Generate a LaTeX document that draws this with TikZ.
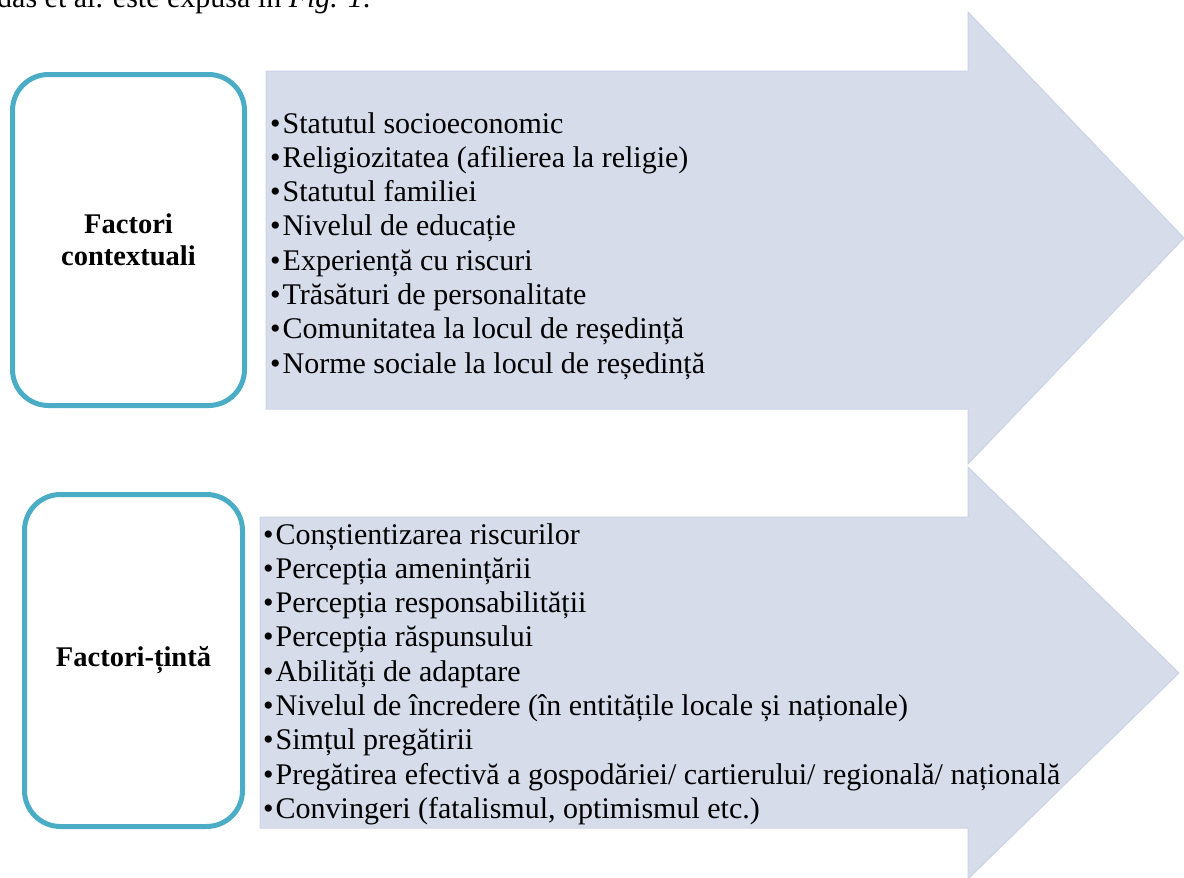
\documentclass[tikz,border=0pt]{standalone}
\usepackage{fontspec}
\setmainfont{Liberation Serif}
\usetikzlibrary{positioning}
\definecolor{boxteal}{RGB}{75,172,198}
\definecolor{arrowfill}{RGB}{214,220,234}
\definecolor{arrowedge}{RGB}{204,211,229}
\newcommand{\itm}{\textbullet\hspace{2pt}}
\tikzset{
x=1pt, y=-1pt, % one unit per pixel, y grows downwards
factor/.style={draw=boxteal, line width=5pt, rounded corners=36pt, fill=white, align=center, font=\bfseries\fontsize{28.5}{32}\selectfont}, % the rounded boxes on the left
bigarrow/.style={fill=arrowfill, draw=arrowedge, line width=1pt}, % the wide arrows behind the lists
itemlist/.style={inner sep=0pt, align=left, anchor=north west, font=\fontsize{30}{34.3}\selectfont}, % the bullet lists
}

\begin{document}
\begin{tikzpicture}
  \useasboundingbox (0,0) rectangle (1184,878);

  \node[anchor=base west, inner sep=0pt, font=\fontsize{30}{34}\selectfont] (caption) at (-3,8) {das et al. este expusă în \textit{Fig. 1}.};

  % arrows
  \draw[bigarrow] (266,71) -- (968,71) -- (968,12) -- (1184,238) -- (968,464) -- (968,409) -- (266,409) -- cycle;
  \draw[bigarrow] (260,517) -- (968,517) -- (968,467) -- (1179,673) -- (968,879) -- (968,828) -- (260,828) -- cycle;

  % boxes
  \node[factor, minimum width=232pt, minimum height=331pt] (context) at (128.5,240) {Factori\\contextuali};
  \node[factor, minimum width=218pt, minimum height=332pt] (target) at (133.5,660.5) {Factori-țintă};

  % lists
  \node[itemlist] (contextlist) at (270,112) {\itm Statutul socioeconomic\\
    \itm Religiozitatea (afilierea la religie)\\
    \itm Statutul familiei\\
    \itm Nivelul de educație\\
    \itm Experiență cu riscuri\\
    \itm Trăsături de personalitate\\
    \itm Comunitatea la locul de reședință\\
    \itm Norme sociale la locul de reședință};
  \node[itemlist] (targetlist) at (263,523) {\itm Conștientizarea riscurilor\\
    \itm Percepția amenințării\\
    \itm Percepția responsabilității\\
    \itm Percepția răspunsului\\
    \itm Abilități de adaptare\\
    \itm Nivelul de încredere (în entitățile locale și naționale)\\
    \itm Simțul pregătirii\\
    \itm Pregătirea efectivă a gospodăriei/ cartierului/ regională/ națională\\
    \itm Convingeri (fatalismul, optimismul etc.)};
\end{tikzpicture}
\end{document}
